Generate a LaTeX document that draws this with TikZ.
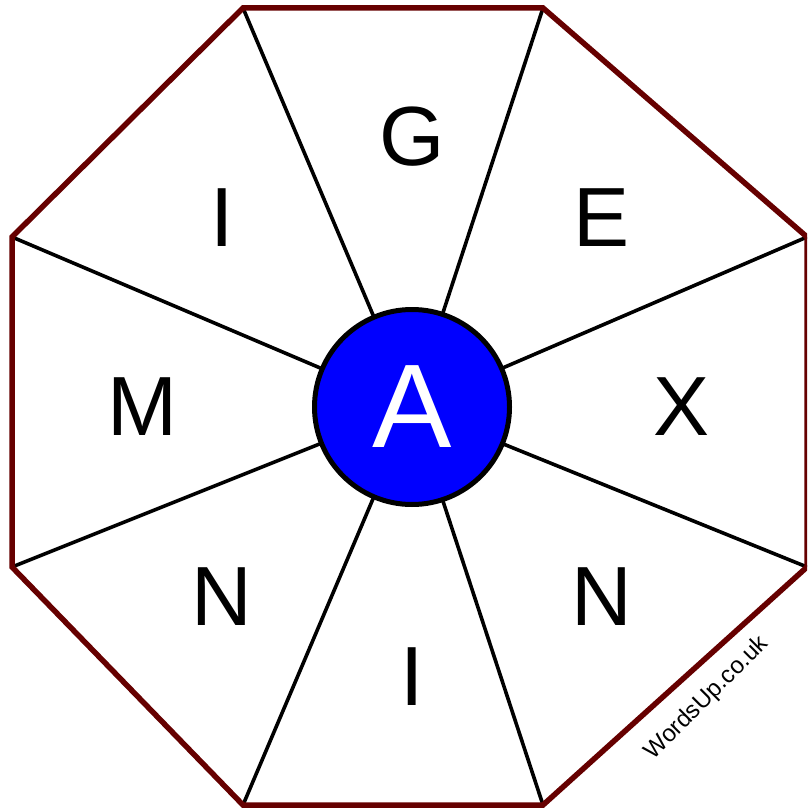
\documentclass[tikz,border=0pt]{standalone}
\usepackage{fontspec}
\setmainfont{Liberation Sans}
\definecolor{octred}{HTML}{660000}
\definecolor{hubblue}{HTML}{0000FF}
\tikzset{
  octline/.style={draw=octred,line width=5.5pt,line join=miter},
  spoke/.style={draw=black,line width=3.6pt},
  hub/.style={circle,draw=black,line width=5pt,fill=hubblue,minimum size=195pt,inner sep=0pt,text=white,font=\fontsize{119}{119}\selectfont},
  letter/.style={inner sep=0pt,font=\fontsize{84}{84}\selectfont}
}
\begin{document}
\begin{tikzpicture}[x=1pt,y=-1pt]
\useasboundingbox (0,0) rectangle (807,810);
\clip (0,0) rectangle (807,810);
\coordinate (v1) at (243,8);
\coordinate (v2) at (543,8);
\coordinate (v3) at (807,237);
\coordinate (v4) at (807,567);
\coordinate (v5) at (543,805);
\coordinate (v6) at (243,805);
\coordinate (v7) at (12,567);
\coordinate (v8) at (12,237);
\coordinate (c) at (412,407);
\foreach \v in {v1,v2,v3,v4,v5,v6,v7,v8}{\draw[spoke] (c) -- (\v);}
\draw[octline] (v1) -- (v2) -- (v3) -- (v4) -- (v5) -- (v6) -- (v7) -- (v8) -- cycle;
\node[hub] (hubnode) at (c) {A};
\node[letter] (lG) at (412,137) {G};
\node[letter] (lE) at (602,218) {E};
\node[letter] (lX) at (682,407) {X};
\node[letter] (lN1) at (602,597) {N};
\node[letter] (lI1) at (412,677) {I};
\node[letter] (lN2) at (222,597) {N};
\node[letter] (lM) at (142,407) {M};
\node[letter] (lI2) at (222,218) {I};
\node[rotate=45,inner sep=0pt,font=\fontsize{24}{24}\selectfont] (wm) at (707,698) {WordsUp.co.uk};
\end{tikzpicture}
\end{document}
